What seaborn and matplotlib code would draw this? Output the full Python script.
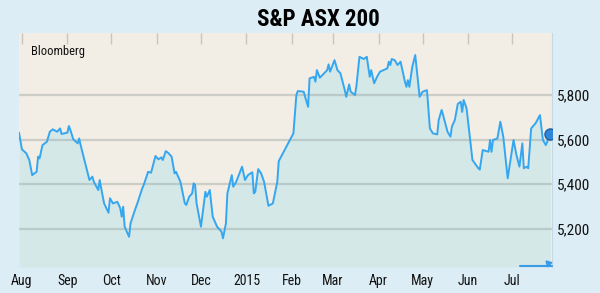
import matplotlib
matplotlib.use("Agg")
import matplotlib.pyplot as plt
import matplotlib.dates as mdates
from matplotlib import font_manager
import seaborn as sns
import pandas as pd

title = "S&P ASX 200"
source = "Bloomberg"

dates = [
    "2014-07-30", "2014-08-01", "2014-08-04", "2014-08-06", "2014-08-08", "2014-08-11",
    "2014-08-12", "2014-08-13", "2014-08-15", "2014-08-18", "2014-08-20", "2014-08-22",
    "2014-08-25", "2014-08-27", "2014-08-28", "2014-09-01", "2014-09-02", "2014-09-03",
    "2014-09-05", "2014-09-08", "2014-09-09", "2014-09-10", "2014-09-12", "2014-09-16",
    "2014-09-18", "2014-09-19", "2014-09-22", "2014-09-23", "2014-09-24", "2014-09-26",
    "2014-09-29", "2014-09-30", "2014-10-02", "2014-10-05", "2014-10-07", "2014-10-08",
    "2014-10-09", "2014-10-10", "2014-10-13", "2014-10-14", "2014-10-17", "2014-10-19",
    "2014-10-22", "2014-10-23", "2014-10-26", "2014-10-28", "2014-10-31", "2014-11-02",
    "2014-11-04", "2014-11-05", "2014-11-07", "2014-11-09", "2014-11-11", "2014-11-13",
    "2014-11-14", "2014-11-17", "2014-11-20", "2014-11-21", "2014-11-23", "2014-11-25",
    "2014-11-26", "2014-11-27", "2014-11-28", "2014-12-01", "2014-12-04", "2014-12-05",
    "2014-12-07", "2014-12-09", "2014-12-12", "2014-12-15", "2014-12-16", "2014-12-18",
    "2014-12-19", "2014-12-22", "2014-12-23", "2014-12-25", "2014-12-29", "2014-12-31",
    "2015-01-02", "2015-01-05", "2015-01-06", "2015-01-07", "2015-01-09", "2015-01-11",
    "2015-01-13", "2015-01-16", "2015-01-19", "2015-01-22", "2015-01-23", "2015-01-27",
    "2015-02-02", "2015-02-04", "2015-02-05", "2015-02-09", "2015-02-10", "2015-02-12",
    "2015-02-13", "2015-02-16", "2015-02-17", "2015-02-18", "2015-02-20", "2015-02-25",
    "2015-02-26", "2015-02-27", "2015-03-02", "2015-03-04", "2015-03-06", "2015-03-09",
    "2015-03-10", "2015-03-12", "2015-03-13", "2015-03-16", "2015-03-17", "2015-03-19",
    "2015-03-22", "2015-03-24", "2015-03-26", "2015-03-27", "2015-03-29", "2015-03-31",
    "2015-04-02", "2015-04-07", "2015-04-08", "2015-04-09", "2015-04-10", "2015-04-12",
    "2015-04-14", "2015-04-16", "2015-04-19", "2015-04-20", "2015-04-21", "2015-04-22",
    "2015-04-24", "2015-04-26", "2015-04-29", "2015-05-01", "2015-05-04", "2015-05-06",
    "2015-05-08", "2015-05-11", "2015-05-12", "2015-05-14", "2015-05-15", "2015-05-18",
    "2015-05-20", "2015-05-21", "2015-05-23", "2015-05-25", "2015-05-27", "2015-05-28",
    "2015-05-29", "2015-05-31", "2015-06-04", "2015-06-08", "2015-06-09", "2015-06-11",
    "2015-06-15", "2015-06-16", "2015-06-17", "2015-06-18", "2015-06-21", "2015-06-23",
    "2015-06-25", "2015-06-28", "2015-07-02", "2015-07-04", "2015-07-06", "2015-07-08",
    "2015-07-09", "2015-07-11", "2015-07-12", "2015-07-14", "2015-07-17", "2015-07-20",
    "2015-07-22", "2015-07-24", "2015-07-27",
]

values = [
    5631, 5556, 5538, 5508, 5440, 5455,
    5523, 5515, 5575, 5590, 5635, 5646,
    5635, 5650, 5625, 5631, 5661, 5643,
    5601, 5583, 5605, 5575, 5523, 5418,
    5433, 5410, 5373, 5418, 5381, 5313,
    5271, 5336, 5313, 5320, 5291, 5253,
    5298, 5208, 5163, 5223, 5283, 5320,
    5381, 5396, 5455, 5451, 5526, 5511,
    5520, 5508, 5548, 5538, 5523, 5448,
    5455, 5410, 5313, 5306, 5343, 5358,
    5403, 5396, 5313, 5208, 5365, 5343,
    5373, 5253, 5208, 5186, 5156, 5223,
    5358, 5440, 5388, 5410, 5478, 5418,
    5440, 5453, 5358, 5365, 5467, 5448,
    5410, 5302, 5313, 5410, 5503, 5553,
    5628, 5800, 5818, 5815, 5792, 5747,
    5875, 5882, 5860, 5912, 5878, 5912,
    5938, 5905, 5957, 5912, 5898, 5822,
    5792, 5848, 5815, 5800, 5845, 5972,
    5962, 5972, 5882, 5912, 5853, 5882,
    5905, 5920, 5950, 5935, 5962, 5957,
    5935, 5950, 5860, 5837, 5867, 5837,
    5927, 5980, 5792, 5815, 5822, 5650,
    5628, 5623, 5688, 5733, 5710, 5635,
    5613, 5658, 5688, 5760, 5770, 5724,
    5778, 5740, 5508, 5471, 5465, 5553,
    5545, 5598, 5545, 5598, 5605, 5680,
    5613, 5426, 5598, 5530, 5478, 5583,
    5471, 5478, 5471, 5650, 5673, 5710,
    5598, 5575, 5625,
]

y_ticks = [5200, 5400, 5600, 5800]
y_tick_labels = ["5,200", "5,400", "5,600", "5,800"]
month_ticks = ["2014-08-01", "2014-09-01", "2014-10-01", "2014-11-01", "2014-12-01",
               "2015-01-01", "2015-02-01", "2015-03-01", "2015-04-01", "2015-05-01",
               "2015-06-01", "2015-07-01"]
month_labels = ["Aug", "Sep", "Oct", "Nov", "Dec", "2015", "Feb", "Mar", "Apr",
                "May", "Jun", "Jul"]
x_range = ["2014-07-30", "2015-07-28"]
y_range = [5027, 6079]

df = pd.DataFrame({"date": pd.to_datetime(dates), "value": values})

sns.set_theme(style="white")
names = {f.name for f in font_manager.fontManager.ttflist}
cands = ["Liberation Sans Narrow", "DejaVu Sans Condensed", "Roboto Condensed",
         "Open Sans Condensed", "DejaVu Sans"]
FONT = [c for c in cands if c in names] or ["DejaVu Sans"]
plt.rcParams["font.family"] = FONT
plt.rcParams["font.stretch"] = "condensed"

BG = "#dcedf5"
PLOT_BG = "#f2ede5"
FILL = "#d4e8e7"
LINE = "#35a6f0"

fig = plt.figure(figsize=(6.0, 2.93), dpi=100, facecolor=BG)
ax = fig.add_axes([19 / 600, 26 / 293, (551.7 - 19) / 600, (267 - 33) / 293])
ax.set_facecolor(PLOT_BG)

ax.fill_between(df["date"], df["value"], y_range[0], color=FILL, zorder=1, linewidth=0)
for yv in y_ticks:
    ax.axhline(yv, color="#8e9a98", alpha=0.38, linewidth=1.6, zorder=2)
sns.lineplot(data=df, x="date", y="value", ax=ax, color=LINE, linewidth=1.4, zorder=3)
last = df.iloc[-1]
ax.plot([last["date"]], [last["value"]], marker="o", markersize=8,
        color="#2f86d8", markeredgecolor="#1f5fa8", zorder=4, clip_on=True)

ax.set_xlim(pd.to_datetime(x_range[0]), pd.to_datetime(x_range[1]))
ax.set_ylim(*y_range)

ax.set_xticks(pd.to_datetime(month_ticks))
ax.set_xticklabels(month_labels, fontsize=10, color="#111111",
                   family=FONT, stretch="condensed")
ax.tick_params(axis="x", bottom=False, top=True, direction="in", length=8,
               width=1, color="#c9c5bc", pad=5, labelbottom=True, labeltop=False)

ax.yaxis.tick_right()
ax.set_yticks(y_ticks)
ax.set_yticklabels(y_tick_labels, fontsize=11, color="#111111",
                   family=FONT, stretch="condensed")
ax.tick_params(axis="y", right=False, left=False, length=0, pad=4)

ax.set_xlabel("")
ax.set_ylabel("")
for side in ["left", "bottom", "top"]:
    ax.spines[side].set_visible(False)
ax.spines["right"].set_color("#c4d8e6")
ax.spines["right"].set_linestyle((0, (1, 1)))
ax.spines["right"].set_linewidth(0.8)

# range-slider marker at bottom right
ax.plot([0.94, 1.0], [0.003, 0.003], transform=ax.transAxes, color="#3a9be8",
        linewidth=1.5, zorder=5, clip_on=False)
ax.plot([0.993], [0.015], transform=ax.transAxes, marker=(3, 0, 45), markersize=5,
        color="#3a9be8", zorder=5, clip_on=False)

fig.text(318 / 600, 1 - 19 / 293, title, ha="center", va="center",
         fontsize=16.5, fontweight="black", color="#000000", family=FONT,
         stretch="condensed")
fig.text(31 / 600, 1 - 52 / 293, source, ha="left", va="center",
         fontsize=9, color="#111111", family=FONT, stretch="condensed")

fig.savefig("out.png", dpi=100, facecolor=BG)
